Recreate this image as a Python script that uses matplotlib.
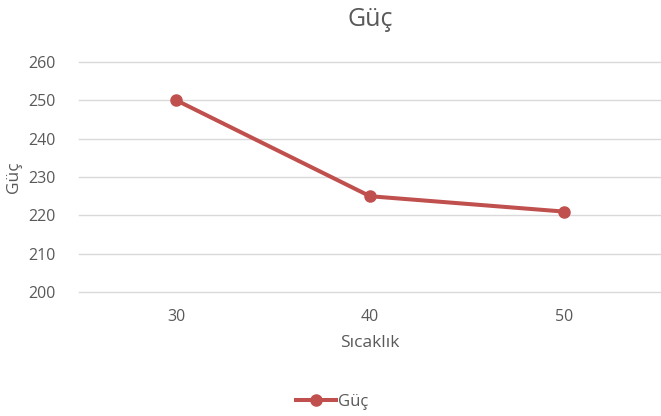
import matplotlib
matplotlib.use("Agg")
import matplotlib.pyplot as plt
from matplotlib.lines import Line2D

categories = ["30", "40", "50"]
values = [250, 225, 221]
yticks = [200, 210, 220, 230, 240, 250, 260]

plt.rcParams['font.family'] = ['Open Sans', 'DejaVu Sans']
txt = '#595959'
red = '#C0504D'

fig = plt.figure(figsize=(6.61, 4.16), dpi=100)
ax = fig.add_axes([79/661, 1-292.3/416, 1-79/661, (292.3-61.7)/416])
x = list(range(len(categories)))
ax.plot(x, values, color=red, lw=2.9, marker='o', ms=8, solid_capstyle='round', zorder=3)
ax.set_xlim(-0.5, len(categories)-0.5)
ax.set_ylim(200, 260)
ax.set_yticks(yticks)
ax.set_xticks(x)
ax.set_xticklabels(categories)
ax.grid(axis='y', color='#D9D9D9', lw=1)
for gl in ax.get_ygridlines():
    gl.set_clip_on(False)
for s in ax.spines.values():
    s.set_visible(False)
ax.tick_params(length=0, colors=txt, labelsize=11.5)
ax.tick_params(axis='y', pad=17)
ax.tick_params(axis='x', pad=12)
ax.set_xlabel('Sıcaklık', color=txt, fontsize=12.5, labelpad=7)
ax.set_ylabel('Güç', color=txt, fontsize=12.5, labelpad=4)
fig.text(370/661, 1-20/416, 'Güç', ha='center', va='center', fontsize=18, color=txt)
h = Line2D([], [], color=red, lw=2.9, marker='o', ms=8)
fig.legend([h], ['Güç'], loc='center', bbox_to_anchor=(332/661, 1-402/416), frameon=False,
           fontsize=12, labelcolor=txt, handlelength=2.4, handletextpad=0.1)
fig.savefig('out.png', dpi=100)
